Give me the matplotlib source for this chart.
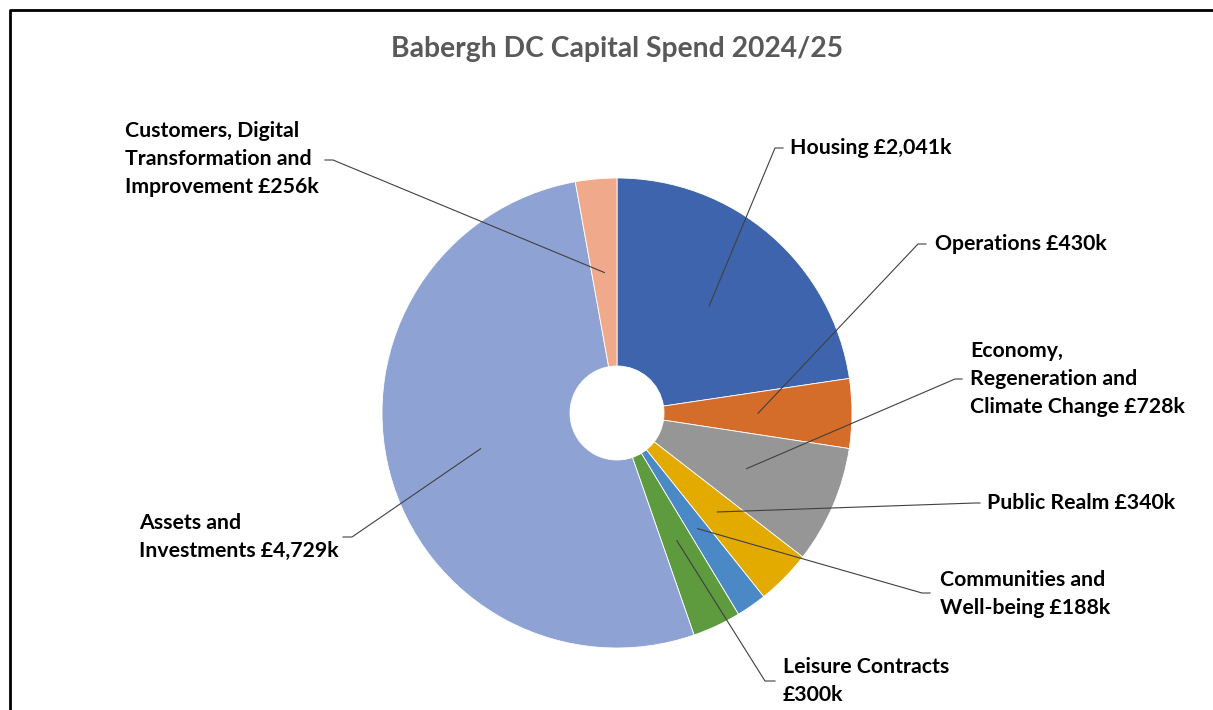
import matplotlib.pyplot as plt
import numpy as np

# Data
categories = ["Housing", "Operations", "Economy, Regeneration and Climate Change",
              "Public Realm", "Communities and Well-being", "Leisure Contracts",
              "Assets and Investments", "Customers, Digital Transformation and Improvement"]
values = [2041, 430, 728, 340, 188, 300, 4729, 256]
labels = ["Housing £2,041k",
          "Operations £430k",
          "Economy,\nRegeneration and\nClimate Change £728k",
          "Public Realm £340k",
          "Communities and\nWell-being £188k",
          "Leisure Contracts\n£300k",
          "Assets and\nInvestments £4,729k",
          "Customers, Digital\nTransformation and\nImprovement £256k"]
colors = ["#3D64AD", "#D56D2A", "#969696", "#E3AB00",
          "#4A89C5", "#5E9A3E", "#8EA3D4", "#F1A98C"]

plt.rcParams['font.family'] = ['Lato', 'DejaVu Sans']

W, H = 1213, 710
fig = plt.figure(figsize=(W / 100, H / 100), dpi=100)
ax = fig.add_axes([0, 0, 1, 1])

# pixel-ish layout helper (y measured from top)
def P(x, y):
    return (x, H - y)

cx, cy = P(617, 413)
R = 235
hole = 47

wedges, _ = ax.pie(values, colors=colors, startangle=90, counterclock=False,
                   radius=R, center=(cx, cy),
                   wedgeprops=dict(width=R - hole, edgecolor='white', linewidth=0.6))

# pie() resets the limits, so set them afterwards
ax.set_xlim(0, W)
ax.set_ylim(0, H)
ax.set_aspect('equal')
ax.axis('off')

# frame (top and left visible)
ax.plot([10, 10, W + 5], [-5, H - 10, H - 10], color='black', lw=2, clip_on=False)

ax.text(*P(617, 49), "Babergh DC Capital Spend 2024/25", ha='center', va='center',
        fontsize=20.3, fontweight='bold', color='#595959')

# label layout: (line end, tick end, text anchor, ha)
layout = [
    ((775, 148), (783, 148), (790, 148), 'left'),
    ((918, 244), (926, 244), (935, 244), 'left'),
    ((955, 379), (962, 379), (970, 379), 'left'),
    ((975, 503), (980, 503), (987, 503), 'left'),
    ((922, 593), (930, 593), (940, 594), 'left'),
    ((765, 681), (775, 681), (783, 681), 'left'),
    ((352, 537), (343, 537), (339, 537), 'right'),
    ((333, 160), (325, 160), (319, 159), 'right'),
]

for w, lab, (le, te, ta, ha) in zip(wedges, labels, layout):
    mid = np.deg2rad((w.theta1 + w.theta2) / 2)
    sx = cx + 0.6 * R * np.cos(mid)
    sy = cy + 0.6 * R * np.sin(mid)
    ex, ey = P(*le)
    tx, ty = P(*te)
    ax.plot([sx, ex, tx], [sy, ey, ty], color='#404040', lw=0.8)
    ax.text(*P(*ta), lab, ha=ha, va='center', multialignment='left',
            fontsize=15.3, fontweight='bold', color='black', linespacing=1.48)

fig.savefig("out.png", dpi=100)
